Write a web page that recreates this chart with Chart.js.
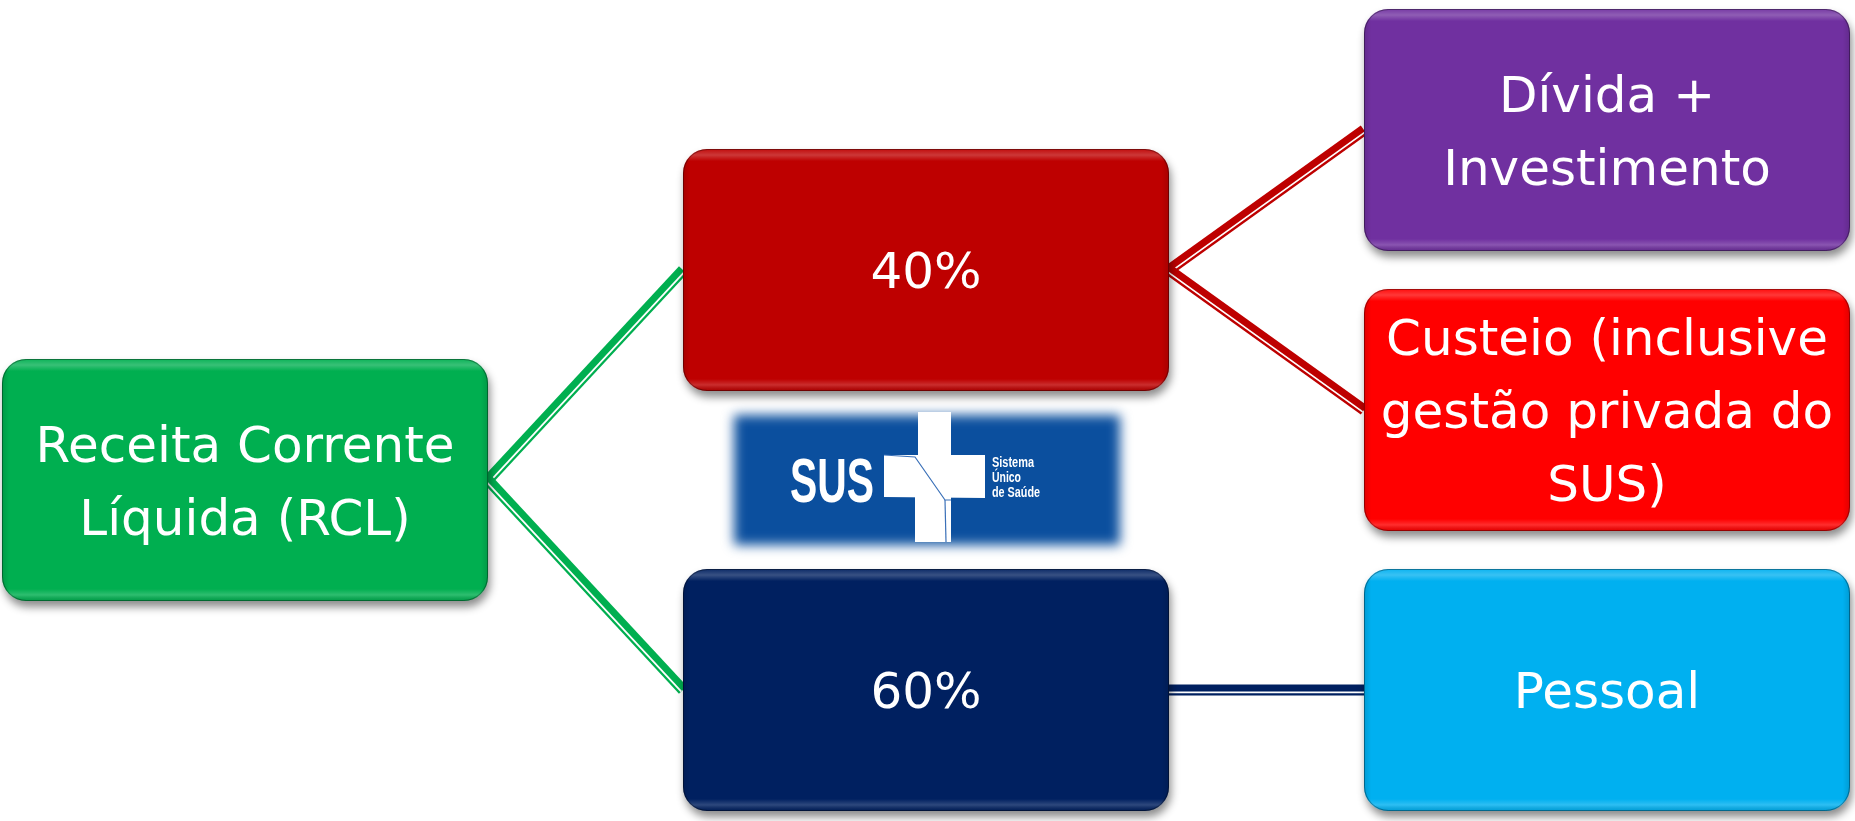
<!DOCTYPE html>
<html><head><meta charset="utf-8">
<script src="https://cdn.jsdelivr.net/npm/chart.js@4"></script>
<style>html,body{margin:0;padding:0;background:#fff;overflow:hidden}canvas{display:block}</style>
</head><body>
<canvas id="c" width="1855" height="821"></canvas>
<script>
// ---- data ----
const rootLabel = 'Receita Corrente\nLíquida (RCL)';
const shareValues = [40, 60];
const destLabels = ['Dívida +\nInvestimento', 'Custeio (inclusive\ngestão privada do\nSUS)', 'Pessoal'];
const destParent = [0, 0, 1];
// ---- styles ----
const rootColor = '#00AF50';
const shareColors = ['#BE0000', '#002060'];
const destColors = ['#7030A0', '#FF0000', '#00B0F0'];

// ---- build tidy tree (rows computed from structure) ----
const leafRows = destLabels.map((_, i) => i * 2);
const shareRows = shareValues.map((_, s) => {
  const r = leafRows.filter((_, i) => destParent[i] === s);
  return r.reduce((a, b) => a + b, 0) / r.length;
});
const rootRow = shareRows.reduce((a, b) => a + b, 0) / shareRows.length;
const nodes = [];
nodes.push({ level: 0, row: rootRow, text: rootLabel, color: rootColor, parent: -1 });
shareValues.forEach((v, s) => nodes.push({ level: 1, row: shareRows[s], text: v + '%', color: shareColors[s], parent: 0 }));
destLabels.forEach((t, i) => nodes.push({ level: 2, row: leafRows[i], text: t, color: destColors[i], parent: 1 + destParent[i] }));

const BOX_W = 486, BOX_H = 242, RADIUS = 24, LINE_H = 73;

function rr(ctx, x, y, w, h, r) {
  ctx.beginPath();
  ctx.moveTo(x + r, y);
  ctx.arcTo(x + w, y, x + w, y + h, r);
  ctx.arcTo(x + w, y + h, x, y + h, r);
  ctx.arcTo(x, y + h, x, y, r);
  ctx.arcTo(x, y, x + w, y, r);
  ctx.closePath();
}

const diagramPlugin = {
  id: 'diagram',
  beforeDatasetsDraw(chart) {
    const ctx = chart.ctx;
    const pts = chart.getDatasetMeta(0).data;
    nodes.forEach((n, i) => {
      if (n.parent < 0) return;
      const p = pts[n.parent], c = pts[i];
      const x1 = p.x + BOX_W / 2, y1 = p.y, x2 = c.x - BOX_W / 2, y2 = c.y;
      const dx = x2 - x1, dy = y2 - y1, len = Math.hypot(dx, dy);
      const nx = -dy / len, ny = dx / len;
      ctx.save();
      ctx.lineCap = 'butt';
      ctx.strokeStyle = nodes[n.parent].color;
      ctx.lineWidth = 11;
      ctx.beginPath(); ctx.moveTo(x1, y1); ctx.lineTo(x2, y2); ctx.stroke();
      ctx.strokeStyle = '#ffffff';
      ctx.lineWidth = 1.8;
      const o = 2.3;
      ctx.beginPath(); ctx.moveTo(x1 + nx * o, y1 + ny * o); ctx.lineTo(x2 + nx * o, y2 + ny * o); ctx.stroke();
      ctx.restore();
    });
  },
  afterDatasetsDraw(chart) {
    const ctx = chart.ctx;
    const pts = chart.getDatasetMeta(0).data;
    // logo
    const lx = chart.scales.x.getPixelForValue(1), ly = chart.scales.y.getPixelForValue(rootRow);
    drawLogo(ctx, lx, ly);
    nodes.forEach((n, i) => {
      const el = pts[i];
      const x = el.x - BOX_W / 2, y = el.y - BOX_H / 2;
      ctx.save();
      ctx.shadowColor = 'rgba(0,0,0,0.45)';
      ctx.shadowBlur = 9;
      ctx.shadowOffsetX = 2;
      ctx.shadowOffsetY = 6;
      rr(ctx, x, y, BOX_W, BOX_H, RADIUS);
      ctx.fillStyle = n.color;
      ctx.fill();
      ctx.restore();
      // bevel highlights
      ctx.save();
      rr(ctx, x, y, BOX_W, BOX_H, RADIUS);
      ctx.clip();
      let g = ctx.createLinearGradient(0, y, 0, y + BOX_H);
      g.addColorStop(0, 'rgba(255,255,255,0.05)');
      g.addColorStop(0.025, 'rgba(255,255,255,0.22)');
      g.addColorStop(0.05, 'rgba(255,255,255,0)');
      g.addColorStop(0.95, 'rgba(255,255,255,0)');
      g.addColorStop(0.975, 'rgba(255,255,255,0.18)');
      g.addColorStop(1, 'rgba(0,0,0,0.1)');
      ctx.fillStyle = g;
      ctx.fillRect(x, y, BOX_W, BOX_H);
      let gs = ctx.createLinearGradient(x, 0, x + BOX_W, 0);
      gs.addColorStop(0, 'rgba(0,0,0,0.12)');
      gs.addColorStop(0.015, 'rgba(0,0,0,0)');
      gs.addColorStop(0.985, 'rgba(0,0,0,0)');
      gs.addColorStop(1, 'rgba(0,0,0,0.12)');
      ctx.fillStyle = gs;
      ctx.fillRect(x, y, BOX_W, BOX_H);
      ctx.restore();
      ctx.save();
      rr(ctx, x + 0.5, y + 0.5, BOX_W - 1, BOX_H - 1, RADIUS);
      ctx.strokeStyle = 'rgba(0,0,0,0.35)';
      ctx.lineWidth = 1;
      ctx.stroke();
      ctx.restore();
      // text
      ctx.save();
      ctx.fillStyle = '#ffffff';
      ctx.font = '50px "DejaVu Sans"';
      ctx.textAlign = 'center';
      ctx.textBaseline = 'alphabetic';
      const lines = n.text.split('\n');
      lines.forEach((t, k) => {
        const by = el.y + (k - (lines.length - 1) / 2) * LINE_H + 18;
        ctx.fillText(t, el.x, by);
      });
      ctx.restore();
    });
  }
};

function fitText(ctx, text, x, y, targetW, font) {
  ctx.save();
  ctx.font = font;
  const w = ctx.measureText(text).width;
  ctx.translate(x, y);
  ctx.scale(targetW / w, 1);
  ctx.textAlign = 'left';
  ctx.fillText(text, 0, 0);
  ctx.restore();
}

function drawLogo(ctx, cx, cy) {
  ctx.save();
  ctx.filter = 'blur(6px)';
  ctx.fillStyle = '#0B4F9E';
  ctx.fillRect(cx - 192, cy - 65, 386, 130);
  ctx.restore();
  ctx.save();
  ctx.fillStyle = '#ffffff';
  // cross
  ctx.fillRect(cx - 8, cy - 68, 33, 44);
  ctx.fillRect(cx - 11, cy + 17, 36, 45);
  ctx.beginPath();
  ctx.moveTo(cx - 42, cy - 25);
  ctx.lineTo(cx + 59, cy - 25);
  ctx.lineTo(cx + 59, cy + 18);
  ctx.lineTo(cx - 42, cy + 17);
  ctx.closePath();
  ctx.fill();
  ctx.strokeStyle = '#3A70B8';
  ctx.lineWidth = 1.2;
  ctx.beginPath();
  ctx.moveTo(cx - 42, cy - 25);
  ctx.lineTo(cx - 11, cy - 23);
  ctx.lineTo(cx + 19, cy + 20);
  ctx.lineTo(cx + 25, cy + 20);
  ctx.stroke();
  ctx.beginPath();
  ctx.moveTo(cx + 19, cy + 20);
  ctx.lineTo(cx + 20, cy + 62);
  ctx.stroke();
  // texts
  ctx.fillStyle = '#ffffff';
  fitText(ctx, 'SUS', cx - 136, cy + 22, 84, 'bold 63px "Liberation Sans"');
  fitText(ctx, 'Sistema', cx + 66, cy - 13, 42, 'bold 14px "Liberation Sans"');
  fitText(ctx, 'Único', cx + 66, cy + 2, 29, 'bold 14px "Liberation Sans"');
  fitText(ctx, 'de Saúde', cx + 66, cy + 17, 48, 'bold 14px "Liberation Sans"');
  ctx.restore();
}

new Chart(document.getElementById('c').getContext('2d'), {
  type: 'scatter',
  data: { datasets: [{ data: nodes.map(n => ({ x: n.level, y: n.row })), pointRadius: 0, pointHoverRadius: 0 }] },
  options: {
    responsive: false,
    devicePixelRatio: 1,
    animation: false,
    events: [],
    layout: { padding: { left: 245, right: 248, top: 130, bottom: 131 } },
    scales: {
      x: { type: 'linear', min: 0, max: 2, display: false },
      y: { type: 'linear', min: 0, max: 4, reverse: true, display: false }
    },
    plugins: { legend: { display: false }, tooltip: { enabled: false } }
  },
  plugins: [diagramPlugin]
});
</script>
</body></html>
